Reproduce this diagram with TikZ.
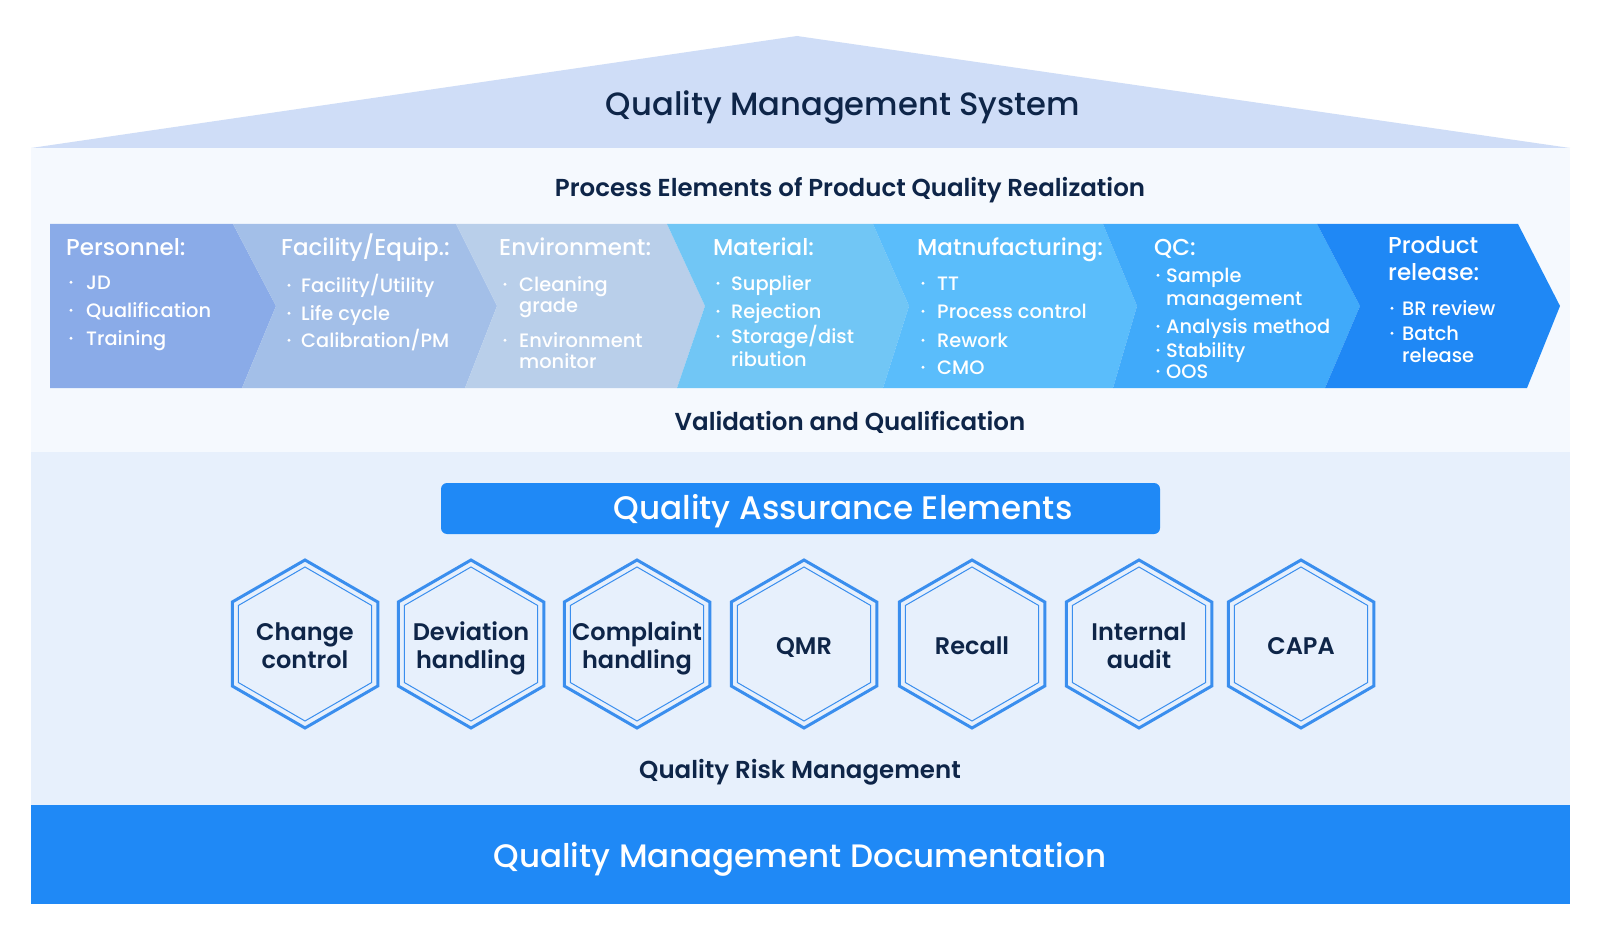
\documentclass[tikz,border=0pt]{standalone}
\usepackage{fontspec}
\setmainfont{Poppins}
\IfFontExistsTF{Poppins Medium}{\newfontfamily\medf{Poppins Medium}}{\newfontfamily\medf{Poppins}[FakeBold=0.4]}
\IfFontExistsTF{Poppins SemiBold}{\newfontfamily\semif{Poppins SemiBold}}{\newfontfamily\semif{Poppins}[FakeBold=1.2]}
\usetikzlibrary{calc}
\definecolor{navy}{HTML}{0E2548}
\definecolor{roofc}{HTML}{CFDDF7}
\definecolor{procbg}{HTML}{F5F9FE}
\definecolor{qabg}{HTML}{E7F0FC}
\definecolor{barblue}{HTML}{1F89F6}
\definecolor{hexblue}{HTML}{3A8EEE}
\definecolor{cA}{HTML}{8AABE8}
\definecolor{cB}{HTML}{A3BFE8}
\definecolor{cC}{HTML}{B9CFEA}
\definecolor{cD}{HTML}{71C6F5}
\definecolor{cE}{HTML}{5ABDFB}
\definecolor{cF}{HTML}{40AAFA}
\definecolor{cG}{HTML}{1F88F5}
\tikzset{
  ctitle/.style={text=white, anchor=base west, inner sep=0pt, font=\medf\fontsize{23}{27}\selectfont},
  itemtxt/.style={text=white, anchor=base west, inner sep=0pt, font=\medf\fontsize{19.4}{23}\selectfont},
  heading/.style={text=navy, inner sep=0pt, font=\semif\fontsize{24.5}{29}\selectfont},
  hextxt/.style={text=navy, inner sep=0pt, align=center, font=\semif\fontsize{24}{28}\selectfont},
  hexout/.style={draw=hexblue, line width=3pt, line join=miter},
  hexin/.style={draw=hexblue, line width=1pt},
}
\newcommand\bitem[5]{\fill[white] (#2,#4-6.8) circle (1.6);
  \node[itemtxt] (#1) at (#3,#4) {#5};}
\newcommand\citem[4]{\node[itemtxt] (#1) at (#2,#3) {#4};}
\newcommand\hexa[4]{%
  \begin{scope}[shift={(#2,644)}]
    \draw[hexout] (90:84)--(150:84)--(210:84)--(270:84)--(330:84)--(30:84)--cycle;
    \draw[hexin] (90:77)--(150:77)--(210:77)--(270:77)--(330:77)--(30:77)--cycle;
  \end{scope}
  \node[hextxt] (#1) at (#2,#3) {#4};}
\begin{document}
\begin{tikzpicture}[x=1pt,y=-1pt]
\useasboundingbox (0,0) rectangle (1601,936);
\fill[white] (0,0) rectangle (1601,936);
% house
\fill[roofc] (31,148) -- (797,36) -- (1570,148) -- cycle;
\fill[procbg] (31,148) rectangle (1570,452);
\fill[qabg] (31,452) rectangle (1570,805);
\fill[barblue] (31,805) rectangle (1570,904);
\node[text=navy, inner sep=0pt, font=\medf\fontsize{32.2}{38}\selectfont] (qms) at (843,107) {Quality Management System};
\node[heading] (pe) at (850,190) {Process Elements of Product Quality Realization};
% chevrons
\fill[cA] (50,224) -- (233,224) -- (276,306) -- (242,388) -- (50,388) -- cycle;
\fill[cB] (233,224) -- (456,224) -- (497,306) -- (465,388) -- (242,388) -- (276,306) -- cycle;
\fill[cC] (456,224) -- (667,224) -- (705,306) -- (677,388) -- (465,388) -- (497,306) -- cycle;
\fill[cD] (667,224) -- (873,224) -- (909,306) -- (883,388) -- (677,388) -- (705,306) -- cycle;
\fill[cE] (873,224) -- (1103,224) -- (1137,306) -- (1113,388) -- (883,388) -- (909,306) -- cycle;
\fill[cF] (1103,224) -- (1317,224) -- (1360,306) -- (1325,388) -- (1113,388) -- (1137,306) -- cycle;
\fill[cG] (1317,224) -- (1518,224) -- (1560,306) -- (1527,388) -- (1325,388) -- (1360,306) -- cycle;
% chevron texts
\node[ctitle] (t1) at (66,255) {Personnel:};
\bitem{a1}{71}{86}{289}{JD}
\bitem{a2}{71}{86}{317}{Qualification}
\bitem{a3}{71}{86}{345}{Training}
\node[ctitle] (t2) at (281,255) {Facility/Equip.:};
\bitem{b1}{289}{301}{292}{Facility/Utility}
\bitem{b2}{289}{301}{320}{Life cycle}
\bitem{b3}{289}{301}{347}{Calibration/PM}
\node[ctitle] (t3) at (499,255) {Environment:};
\bitem{c1}{505}{519}{291}{Cleaning}
\citem{c2}{519}{312}{grade}
\bitem{c3}{505}{519}{347}{Environment}
\citem{c4}{519}{368}{monitor}
\node[ctitle] (t4) at (713,255) {Material:};
\bitem{d1}{718}{731}{290}{Supplier}
\bitem{d2}{718}{731}{318}{Rejection}
\bitem{d3}{718}{731}{343}{Storage/dist}
\citem{d4}{731}{366}{ribution}
\node[ctitle] (t5) at (917,255) {Matnufacturing:};
\bitem{e1}{923}{937}{290}{TT}
\bitem{e2}{923}{937}{318}{Process control}
\bitem{e3}{923}{937}{347}{Rework}
\bitem{e4}{923}{937}{374}{CMO}
\node[ctitle] (t6) at (1154,255) {QC:};
\bitem{f1}{1158}{1166}{282}{Sample}
\citem{f2}{1166}{305}{management}
\bitem{f3}{1158}{1166}{333}{Analysis method}
\bitem{f4}{1158}{1166}{357}{Stability}
\bitem{f5}{1158}{1166}{378}{OOS}
\node[ctitle] (t7) at (1388,254) {Product};
\node[ctitle] (t7b) at (1388,280) {release:};
\bitem{g1}{1392}{1402}{315}{BR review}
\bitem{g2}{1392}{1402}{340}{Batch}
\citem{g3}{1402}{362}{release}
\node[heading] (vq) at (850,422) {Validation and Qualification};
% QA
\fill[barblue, rounded corners=6pt] (441,483) rectangle (1160,534);
\node[text=white, inner sep=0pt, font=\medf\fontsize{32.6}{38}\selectfont] (qa) at (843,511) {Quality Assurance Elements};
\hexa{h1}{305}{649}{\strut Change\\\strut control}
\hexa{h2}{471}{649}{\strut Deviation\\\strut handling}
\hexa{h3}{637}{649}{\strut Complaint\\\strut handling}
\hexa{h4}{804}{649}{\strut QMR}
\hexa{h5}{972}{649}{\strut Recall}
\hexa{h6}{1139}{649}{\strut Internal\\\strut audit}
\hexa{h7}{1301}{649}{\strut CAPA}
\node[heading] (qrm) at (800,772) {Quality Risk Management};
\node[text=white, inner sep=0pt, font=\medf\fontsize{32.5}{38}\selectfont] (qmd) at (800,859) {Quality Management Documentation};
\end{tikzpicture}
\end{document}
